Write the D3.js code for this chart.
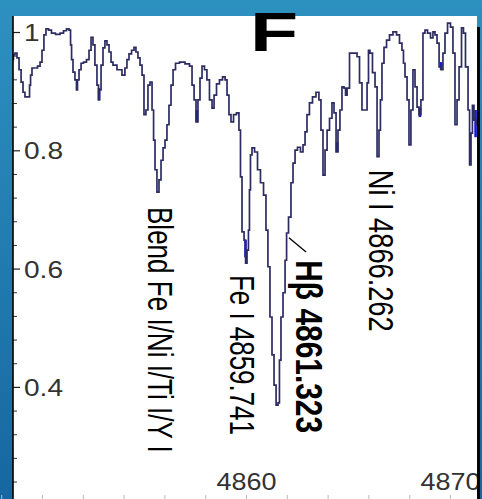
<!DOCTYPE html>
<html><head><meta charset="utf-8">
<script src="https://cdn.jsdelivr.net/npm/d3@7"></script>
<style>html,body{margin:0;padding:0;background:#fff;overflow:hidden}</style>
</head><body>
<svg id="c" width="482" height="499"></svg>
<script>
// ---- data ----
const wavelength = [4848.55,4848.60,4848.70,4848.80,4848.90,4849.00,4849.09,4849.19,4849.34,4849.39,4849.44,4849.53,4849.68,4849.83,4849.93,4850.02,4850.12,4850.22,4850.37,4850.51,4850.76,4850.96,4851.10,4851.25,4851.35,4851.40,4851.45,4851.54,4851.64,4851.69,4851.74,4851.84,4851.94,4852.08,4852.23,4852.33,4852.43,4852.52,4852.62,4852.72,4852.77,4852.82,4852.92,4853.01,4853.11,4853.21,4853.31,4853.41,4853.50,4853.80,4853.99,4854.09,4854.19,4854.29,4854.44,4854.53,4854.63,4854.73,4854.83,4854.93,4855.02,4855.12,4855.22,4855.32,4855.42,4855.47,4855.56,4855.66,4855.76,4855.86,4855.96,4856.05,4856.15,4856.25,4856.35,4856.45,4856.59,4856.84,4857.13,4857.28,4857.38,4857.48,4857.57,4857.67,4857.77,4857.87,4858.01,4858.11,4858.26,4858.36,4858.46,4858.60,4858.75,4858.90,4859.00,4859.09,4859.19,4859.29,4859.44,4859.58,4859.68,4859.73,4859.83,4859.93,4859.98,4860.07,4860.12,4860.17,4860.22,4860.32,4860.47,4860.61,4860.76,4860.91,4861.00,4861.10,4861.20,4861.30,4861.40,4861.50,4861.59,4861.64,4861.74,4861.84,4861.94,4861.99,4862.13,4862.23,4862.33,4862.43,4862.57,4862.72,4862.82,4862.92,4863.01,4863.16,4863.31,4863.50,4863.60,4863.70,4863.80,4863.90,4864.00,4864.14,4864.24,4864.34,4864.44,4864.53,4864.63,4864.73,4864.83,4864.88,4864.98,4865.12,4865.37,4865.47,4865.61,4865.71,4865.86,4865.96,4866.00,4866.10,4866.25,4866.35,4866.45,4866.54,4866.59,4866.69,4866.79,4866.94,4867.08,4867.28,4867.43,4867.57,4867.67,4867.72,4867.82,4867.92,4868.01,4868.11,4868.21,4868.31,4868.41,4868.50,4868.60,4868.70,4868.80,4868.95,4869.09,4869.19,4869.29,4869.39,4869.49,4869.58,4869.68,4869.78,4869.93,4870.07,4870.17,4870.27,4870.37,4870.47,4870.61,4870.66,4870.81,4870.91,4870.96,4871.05,4871.10,4871.20,4871.30];
const flux = [0.954,0.962,0.965,0.957,0.937,0.916,0.899,0.891,0.891,0.911,0.928,0.940,0.940,0.943,0.950,0.970,0.996,1.006,1.004,0.999,0.997,0.999,1.003,1.006,1.004,0.979,0.954,0.933,0.920,0.903,0.920,0.937,0.948,0.950,0.954,0.970,0.992,0.979,0.945,0.911,0.886,0.903,0.945,0.974,0.986,0.979,0.967,0.950,0.945,0.937,0.928,0.940,0.954,0.964,0.970,0.975,0.967,0.957,0.945,0.928,0.861,0.869,0.911,0.916,0.869,0.818,0.768,0.730,0.751,0.784,0.805,0.818,0.844,0.877,0.911,0.937,0.948,0.950,0.947,0.943,0.911,0.886,0.849,0.886,0.923,0.943,0.937,0.920,0.886,0.872,0.894,0.913,0.920,0.925,0.920,0.894,0.861,0.849,0.861,0.864,0.835,0.756,0.663,0.649,0.610,0.632,0.666,0.734,0.793,0.805,0.798,0.768,0.746,0.725,0.666,0.604,0.519,0.455,0.404,0.370,0.374,0.446,0.519,0.560,0.615,0.661,0.688,0.746,0.779,0.801,0.806,0.798,0.810,0.832,0.861,0.881,0.891,0.899,0.886,0.835,0.759,0.801,0.835,0.855,0.881,0.864,0.798,0.835,0.869,0.908,0.906,0.894,0.906,0.965,0.965,0.959,0.915,0.869,0.869,0.915,0.970,0.965,0.932,0.908,0.790,0.835,0.886,0.948,0.975,0.987,0.996,1.001,0.996,0.982,0.970,0.948,0.925,0.886,0.810,0.869,0.937,0.908,0.874,0.861,0.886,0.999,1.004,0.999,0.991,1.001,0.996,0.982,0.942,0.937,0.965,0.999,1.016,1.009,0.965,0.844,0.886,0.942,1.008,0.999,0.942,0.869,0.776,0.830,0.877,0.852,0.844];
// blue line cores (second trace visible only at some line centres)
const coreWave = [4852.77, 4857.57, 4859.95, 4864.44, 4868.50, 4869.54, 4871.23];
const coreTop = [0.906, 0.869, 0.649, 0.815, 0.873, 0.950, 0.869];
const coreBottom = [0.886, 0.849, 0.620, 0.798, 0.857, 0.937, 0.823];
const yMajorTicks = [0.4, 0.6, 0.8, 1];
const yTickLabels = ["0.4", "0.6", "0.8", "1"];
const xMajorTicks = [4860, 4870];
const xTickLabels = ["4860", "4870"];
const panelLetter = "F";
const lineLabels = ["Blend Fe I/Ni I/Ti I/Y I", "Fe I 4859.741", "Hβ 4861.323", "Ni I 4866.262"];

// ---- layout ----
(function () {
const W = 482, H = 499;
const svg = d3.select("#c");
const defs = svg.append("defs");
const g = defs.append("linearGradient").attr("id","bg").attr("x1",0).attr("y1",0).attr("x2",0).attr("y2",1);
g.append("stop").attr("offset","0%").attr("stop-color","#2d91c0");
g.append("stop").attr("offset","100%").attr("stop-color","#1667a1");
svg.append("rect").attr("width",W).attr("height",H).attr("fill","url(#bg)");

const pL = 13, pR = 477, pT = 16, pB = 505;
svg.append("rect").attr("x",pL).attr("y",pT).attr("width",pR-pL).attr("height",pB-pT).attr("fill","#ffffff");
defs.append("clipPath").attr("id","plot").append("rect").attr("x",pL).attr("y",pT).attr("width",pR-pL).attr("height",pB-pT);

const x = d3.scaleLinear().domain([4860, 4870]).range([246.5, 450.5]);
const y = d3.scaleLinear().domain([0.4, 1]).range([387.4, 32.5]);

// y ticks
const minor = d3.range(0.24, 1.021, 0.04).filter(v => !yMajorTicks.some(m => Math.abs(m - v) < 1e-6));
svg.append("g").selectAll("line").data(minor).join("line")
  .attr("x1", pL).attr("x2", pL + 4).attr("y1", d => y(d)).attr("y2", d => y(d))
  .attr("stroke", "#333").attr("stroke-width", 1);
svg.append("g").selectAll("line").data(yMajorTicks).join("line")
  .attr("x1", pL).attr("x2", pL + 7).attr("y1", d => y(d)).attr("y2", d => y(d))
  .attr("stroke", "#222").attr("stroke-width", 1.2);
svg.append("g").selectAll("text").data(yMajorTicks).join("text")
  .attr("x", 24).attr("y", d => y(d) + 8.5)
  .attr("font-family", "Liberation Sans, Arial, sans-serif").attr("font-size", 24)
  .attr("fill", "#333")
  .attr("textLength", (d, i) => yTickLabels[i].length === 1 ? 15.5 : 39)
  .attr("lengthAdjust", "spacingAndGlyphs")
  .text((d, i) => yTickLabels[i]);

// x ticks (bottom, mostly cut off)
const xMinor = d3.range(4848, 4872, 2);
svg.append("g").selectAll("line").data(xMinor).join("line")
  .attr("x1", d => x(d)).attr("x2", d => x(d)).attr("y1", 495).attr("y2", 499)
  .attr("stroke", "#bbb").attr("stroke-width", 1);
svg.append("g").selectAll("text").data(xMajorTicks).join("text")
  .attr("x", d => x(d)).attr("y", 490)
  .attr("text-anchor", "middle")
  .attr("font-family", "Liberation Sans, Arial, sans-serif").attr("font-size", 24)
  .attr("fill", "#333")
  .attr("textLength", 60).attr("lengthAdjust", "spacingAndGlyphs")
  .text((d, i) => xTickLabels[i]);

// blue cores underneath
svg.append("g").attr("clip-path","url(#plot)").selectAll("line").data(coreWave).join("line")
  .attr("x1", d => x(d)).attr("x2", d => x(d))
  .attr("y1", (d, i) => y(coreTop[i])).attr("y2", (d, i) => y(coreBottom[i]))
  .attr("stroke", "#1818d0").attr("stroke-width", 2.6);

// spectrum
const pts = wavelength.map((w, i) => [w, flux[i]]);
const line = d3.line().x(d => x(d[0])).y(d => y(d[1])).curve(d3.curveStep);
svg.append("path").attr("d", line(pts)).attr("clip-path","url(#plot)")
  .attr("fill","none").attr("stroke","#2c2c63").attr("stroke-width",1.7).attr("stroke-linejoin","miter");

// axis line and right bar
svg.append("line").attr("x1", pL).attr("x2", pL).attr("y1", pT).attr("y2", H)
  .attr("stroke", "#000").attr("stroke-width", 1.6);
svg.append("rect").attr("x", pR).attr("y", 27).attr("width", 3).attr("height", H - 27).attr("fill", "#050505");

// rotated line labels: glyph size `size`, total run length `len`
const labelCfg = [
  {w: 4855.17, v: 0.705, size: 35, len: 246, bold: false},
  {w: 4859.19, v: 0.590, size: 35, len: 160, bold: false},
  {w: 4862.43, v: 0.615, size: 37, len: 173, bold: true},
  {w: 4866.00, v: 0.768, size: 35, len: 162, bold: false}
];
lineLabels.forEach((t, i) => {
  const c = labelCfg[i];
  const el = svg.append("text")
    .attr("font-family", "Liberation Sans, Arial, sans-serif")
    .attr("font-size", c.size).attr("font-weight", c.bold ? "bold" : "normal")
    .attr("fill", "#000")
    .text(t);
  const nat = el.node().getComputedTextLength();
  const f = c.size * c.len / nat;
  el.attr("font-size", f)
    .attr("transform", `translate(${x(c.w)},${y(c.v)}) rotate(90) scale(1,${c.size / f})`);
});
// leader for H-beta
svg.append("line").attr("x1", x(4862.08)).attr("y1", y(0.653)).attr("x2", x(4862.92)).attr("y2", y(0.629))
  .attr("stroke", "#000").attr("stroke-width", 1.3);

// panel letter
svg.append("text").attr("transform", "translate(250,50.5) scale(1.42,1)")
  .attr("font-family", "Liberation Sans, Arial, sans-serif").attr("font-weight", "bold")
  .attr("font-size", 55.5).attr("fill", "#000").text(panelLetter);
})();
</script>
</body></html>
